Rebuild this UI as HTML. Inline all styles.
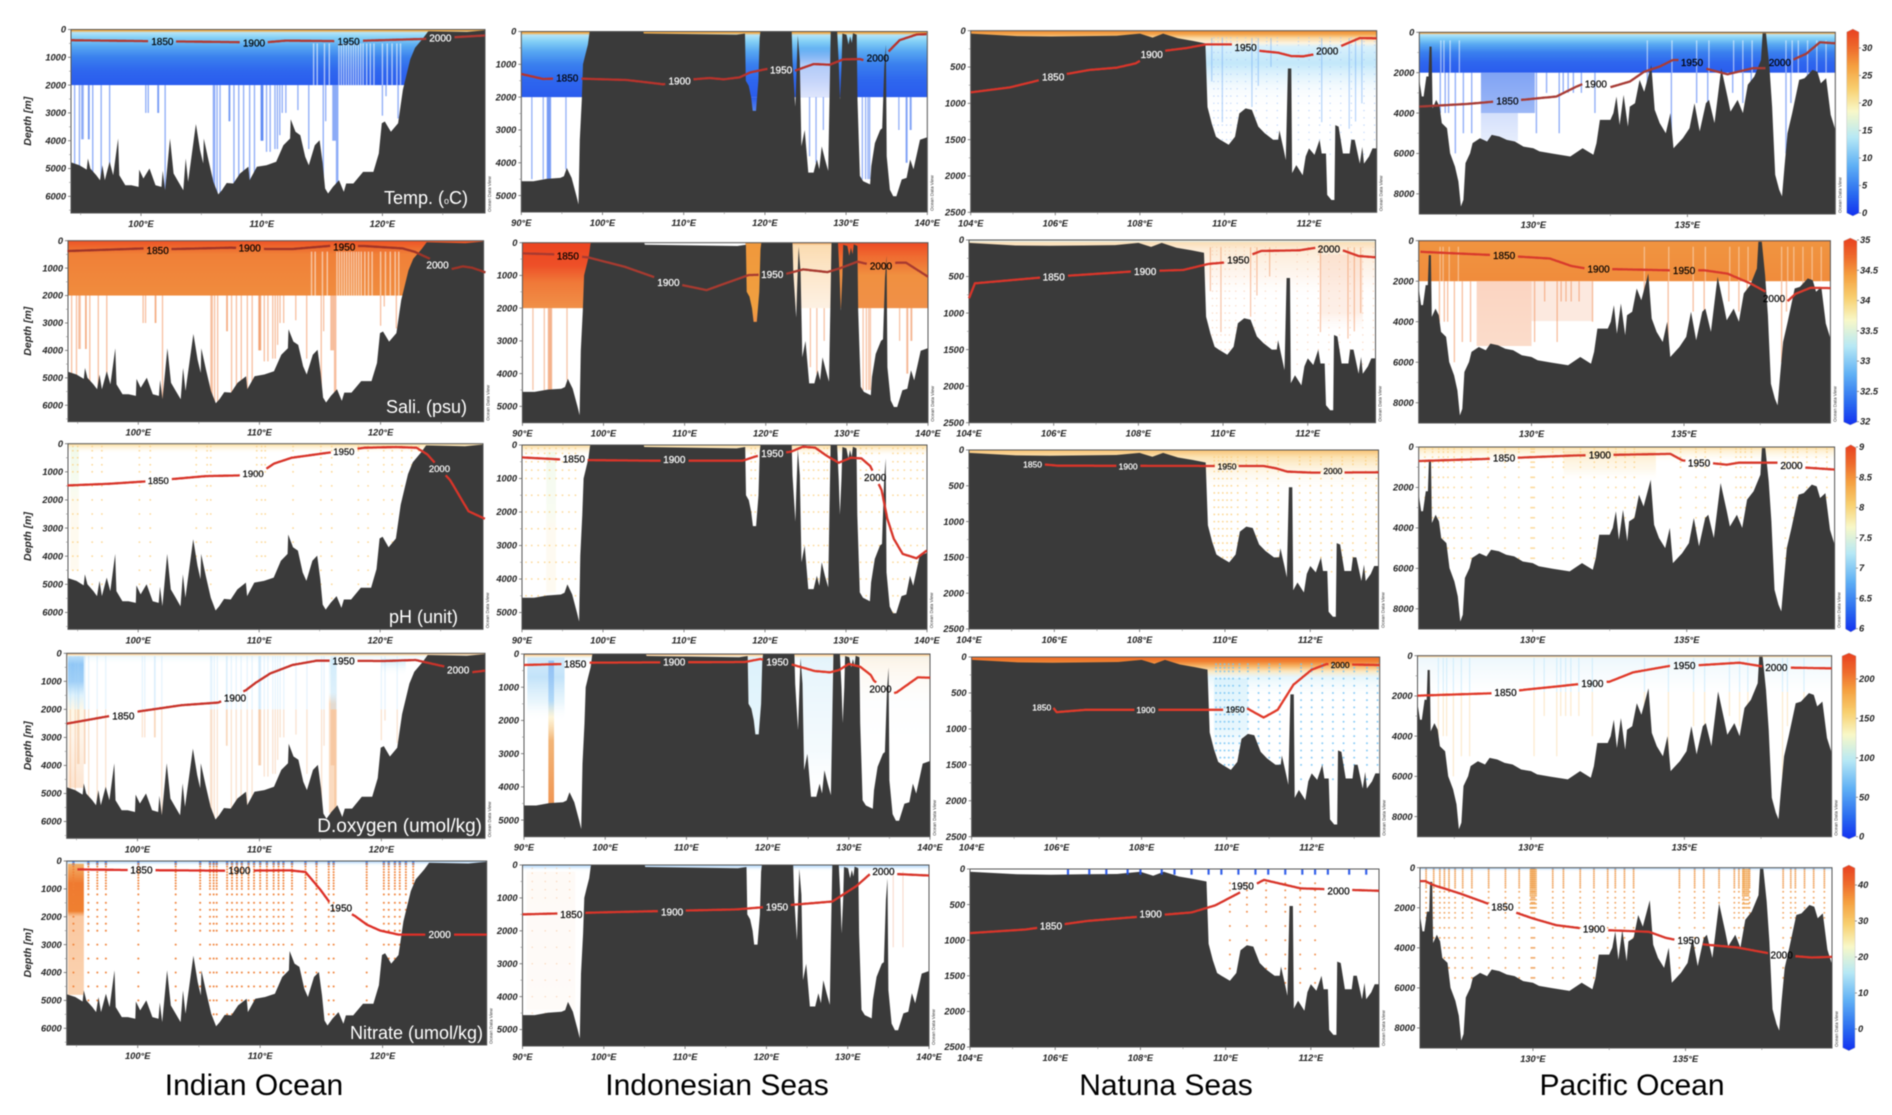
<!DOCTYPE html>
<html lang="en">
<head>
<meta charset="utf-8">
<title>Ocean sections: Indian Ocean, Indonesian Seas, Natuna Seas, Pacific Ocean</title>
<style>
html,body{margin:0;padding:0;background:#fff;width:1892px;height:1115px;overflow:hidden}
svg{display:block;filter:blur(.45px)}
text{font-family:"Liberation Sans",sans-serif}
.tick{font-size:9.3px;font-weight:bold;font-style:italic;fill:#222}
.title{font-size:30px;fill:#000;text-anchor:middle}
</style>
</head>
<body>
<svg id="figure" xmlns="http://www.w3.org/2000/svg" width="1892" height="1115" viewBox="0 0 1892 1115">
<rect width="1892" height="1115" fill="#ffffff"/>
<defs id="defs"></defs>
<g id="panels"></g>
<g id="bars"></g>
<text class="title" x="254" y="1095">Indian Ocean</text>
<text class="title" x="717" y="1095">Indonesian Seas</text>
<text class="title" x="1166" y="1095">Natuna Seas</text>
<text class="title" x="1632" y="1095">Pacific Ocean</text>
</svg>
<script>
/* ---------- bathymetry: [longitude E, depth m] ---------- */
const bathyIndian=[[94.2,4780],[94.9,4880],[95.5,5040],[95.6,4640],[95.8,5000],[96.3,5240],[96.6,5420],[96.8,4880],[97,5420],[97.4,4760],[97.7,5240],[98.1,3920],[98.2,5240],[98.7,5600],[99.2,5600],[99.8,5660],[99.85,5040],[100.2,5360],[100.7,5000],[101.2,5600],[101.7,5660],[101.8,5080],[102,5780],[102.4,3920],[102.7,5180],[103.1,5480],[103.5,5780],[103.7,4640],[103.9,5480],[104.55,3400],[104.9,4340],[105.15,4820],[105.2,3920],[105.6,4720],[106,5480],[106.4,5930],[106.7,5780],[107.1,5520],[107.65,5540],[108.2,5180],[108.9,4940],[109,5420],[109.6,4940],[110.4,4880],[111.2,4760],[111.8,4160],[112.35,3920],[112.4,3230],[112.8,3680],[113.2,3800],[113.6,4580],[113.9,4880],[114.4,4160],[114.8,3980],[115.05,4820],[115.25,5720],[115.5,5900],[115.9,5660],[116.4,5420],[116.8,5840],[117,5540],[117.6,5540],[118.4,5120],[119.25,5120],[119.7,4460],[119.95,3370],[120.2,3310],[120.7,3680],[121.3,3370],[121.7,2170],[122.3,1080],[122.7,660],[123.4,300],[123.8,60],[127,90],[128.5,30]];
const bathySeas=[[90,4560],[91.5,4560],[93.1,4490],[94.8,4460],[95.25,4410],[95.6,4160],[96.2,4460],[96.8,5020],[97.05,5270],[97.2,3300],[97.45,2080],[97.6,1000],[97.9,700],[98.2,400],[98.4,30],[98.5,0],[105,0],[105.1,60],[116.5,100],[117.55,60],[117.65,1500],[118,1650],[118.3,2000],[118.5,2420],[118.9,2420],[119.2,1500],[119.35,200],[119.45,0],[123.3,0],[123.4,900],[123.75,2290],[123.85,1500],[124.05,120],[124.3,900],[124.5,3500],[124.9,3000],[125.35,4300],[126,4300],[126.4,3900],[126.7,4200],[127,3500],[127.4,3900],[127.8,4250],[127.95,2080],[128.1,10],[128.9,10],[129.1,1000],[129.25,2080],[129.45,1000],[129.55,60],[130.05,100],[130.3,400],[130.5,150],[130.7,350],[130.85,50],[131.3,100],[131.4,2080],[131.7,4400],[132.1,4560],[132.95,4660],[133.1,4100],[133.55,3400],[134.2,3000],[134.45,2950],[134.7,1070],[134.9,400],[135,3800],[135.4,4820],[135.8,5020],[136.2,5020],[136.85,4510],[137.45,4460],[137.9,3900],[138.3,4200],[139.1,3300],[140,3220]];
const bathyNatuna=[[104,40],[105.1,75],[105.9,80],[106.7,75],[107.45,70],[108,40],[108.3,95],[108.55,40],[108.9,105],[109.25,140],[109.55,175],[109.6,1050],[109.7,1280],[109.8,1460],[109.9,1500],[110.1,1570],[110.25,1460],[110.35,1140],[110.5,1070],[110.65,1090],[110.8,1320],[110.95,1410],[111.15,1500],[111.27,1500],[111.3,1370],[111.4,1640],[111.45,1780],[111.5,520],[111.58,520],[111.6,1960],[111.7,1850],[111.85,1990],[111.92,1730],[112,1620],[112.13,1710],[112.25,1500],[112.3,1690],[112.4,1690],[112.43,2260],[112.53,2330],[112.6,2330],[112.62,1300],[112.7,1320],[112.8,1690],[112.96,1690],[113,1500],[113.08,1500],[113.2,1830],[113.26,1600],[113.3,1830],[113.42,1730],[113.5,1620],[113.6,1620]];
const bathyPacific=[[126.3,2360],[126.38,3180],[126.44,3180],[126.53,2190],[126.6,2190],[126.63,710],[126.7,710],[126.73,3760],[126.85,3350],[126.96,3680],[127.03,4500],[127.2,4750],[127.3,5990],[127.46,6650],[127.57,7390],[127.65,8630],[127.73,8300],[127.8,6480],[127.95,5990],[128.03,5490],[128.27,5250],[128.5,5410],[128.65,5080],[128.9,5160],[129.14,5330],[129.4,5410],[129.68,5660],[130,5740],[130.2,5900],[130.65,6020],[131.2,6150],[131.6,5740],[131.95,6070],[132.05,5490],[132.16,4340],[132.5,4340],[132.6,4000],[132.7,3180],[132.8,4590],[132.93,3100],[133.07,4670],[133.13,3680],[133.3,3510],[133.45,2360],[133.6,2940],[133.83,1620],[133.94,3840],[134.1,4500],[134.3,5000],[134.45,4000],[134.55,5740],[134.85,5250],[135.07,4750],[135.23,3510],[135.4,4910],[135.6,3510],[135.7,3350],[135.88,4500],[136.1,1780],[136.3,3180],[136.4,3930],[136.63,3350],[136.8,4000],[136.96,2600],[137.17,2190],[137.39,1370],[137.44,50],[137.55,50],[137.66,1700],[137.75,3680],[137.85,7060],[137.98,7800],[138.07,8130],[138.15,6650],[138.25,5000],[138.4,4000],[138.63,2360],[138.8,2280],[139.06,1860],[139.22,1950],[139.33,2520],[139.5,2280],[139.65,4090],[139.8,4830]];

/* ---------- red section lines: [longitude, depth]; year labels: [year, longitude, depth] ---------- */
const lineR1C1=[[94.2,385],[101,420],[109,460],[110.5,455],[112,400],[117,420],[123.4,340],[125,300],[128.5,215]];
const yearsR1C1=[[1850,101.77,420],[1900,109.36,480],[1950,117.2,420],[2000,124.8,300]];
const lineR1C2=[[90,1295],[92.7,1447],[93.9,1437],[97.4,1437],[103,1478],[107.5,1609],[111.2,1457],[113.2,1417],[114.9,1457],[116.9,1397],[118.2,1245],[120.2,1143],[123.7,1194],[126,992],[128,1012],[129.65,850],[131.7,840],[132.9,931],[134.8,718],[136.6,263],[138.7,91],[139.9,81]];
const yearsR1C2=[[1850,95.66,1407],[1900,109.5,1498],[1950,122,1174],[2000,133.9,810]];
const lineR1C3=[[104,849],[104.93,780],[105.7,670],[106.27,596],[106.8,541],[107.45,509],[107.9,450],[108.06,395],[108.6,275],[109.1,239],[109.57,188],[110.2,188],[110.8,275],[111.27,303],[111.58,349],[111.86,353],[112.17,321],[112.72,220],[113.2,101],[113.6,105]];
const yearsR1C3=[[1850,105.95,633],[1900,108.28,326],[1950,110.5,229],[2000,112.43,275]];
const lineR1C4=[[126.3,3680],[127.84,3550],[128.76,3430],[129.6,3350],[130.75,3180],[131.4,2690],[131.67,2520],[132.5,2720],[133.13,2440],[133.6,1950],[134.1,1700],[134.53,1370],[134.8,1370],[135.55,1780],[136.3,2080],[137.12,1780],[137.6,1780],[138.41,1370],[138.85,1070],[139.3,495],[139.8,545]];
const yearsR1C4=[[1850,129.16,3400],[1900,132.03,2560],[1950,135.15,1490],[2000,138,1490]];

const lineR2C1=[[94.15,377],[100.6,280],[102.9,304],[107.66,255],[110.7,304],[112.7,304],[116,182],[118.7,195],[121.8,280],[122.8,402],[124,645],[125.7,1047],[126.8,937],[127.55,986],[128.66,1156]];
const yearsR2C1=[[1850,101.6,353],[1900,109.2,268],[1950,117,219],[2000,124.7,888]];
const lineR2C2=[[90,326],[94.3,357],[98.1,449],[102.6,734],[106.7,1091],[109.7,1295],[112.7,1448],[117.9,989],[122.4,959],[124.6,816],[127.6,898],[129.1,785],[131.3,581],[132.8,663],[136.2,612],[137.3,612],[140,1040]];
const yearsR2C2=[[1850,95.6,398],[1900,108,1214],[1950,120.8,969],[2000,134.2,714]];
const lineR2C3=[[104,798],[104.14,593],[105.75,511],[107.8,433],[109.06,410],[109.65,328],[110,310],[110.65,205],[110.9,150],[111.8,141],[112.2,105],[112.85,146],[113.2,219],[113.6,237]];
const yearsR2C3=[[1850,106,502],[1900,108.16,433],[1950,110.36,274],[2000,112.5,123]];
const lineR2C4=[[126.36,548],[128.8,714],[130.6,880],[131.3,1245],[131.8,1378],[134.5,1460],[135.66,1460],[136.43,1627],[137.2,2125],[137.64,2490],[138.3,3120],[138.66,2620],[139.15,2324],[139.8,2340]];
const yearsR2C4=[[1850,129.1,714],[1900,132.2,1394],[1950,135,1460],[2000,137.95,2840]];

const lineR3C1=[[94.15,1485],[97.6,1425],[100.6,1342],[103.1,1247],[105.6,1152],[108.4,1128],[110.4,950],[111.2,713],[112.7,499],[114.7,380],[118.7,143],[121.3,119],[123,143],[123.9,380],[125.8,1306],[127.3,2400],[128.66,2670]];
const yearsR3C1=[[1850,101.66,1306],[1900,109.5,1057],[1950,117,273],[2000,124.9,891]];
const lineR3C2=[[90,370],[94.7,430],[98.1,450],[107,470],[110.8,470],[117.2,470],[119,330],[123.2,200],[124.7,50],[126.2,80],[127.6,320],[129.1,530],[130.6,380],[131.9,400],[133,630],[134.4,1350],[135.1,2200],[135.9,2800],[137,3250],[138.7,3380],[139.97,3150]];
const yearsR3C2=[[1850,96.4,420],[1900,108.8,430],[1950,120.9,250],[2000,133.6,970]];
const lineR3C3=[[105.73,200],[106.08,219],[109.6,223],[110.9,223],[111.2,256],[111.46,302],[112.03,316],[113.6,312]];
const yearsR3C3=[[1850,105.49,200],[1900,107.73,228],[1950,110.05,228],[2000,112.53,293]];
const lineR3C4=[[126.3,695],[128.64,582],[131.36,420],[134.47,340],[134.86,663],[136.3,873],[136.7,776],[137.98,776],[138.85,1018],[139.8,1115]];
const yearsR3C4=[[1850,129.07,533],[1900,132.18,388],[1950,135.4,792],[2000,138.4,905]];

const lineR4C1=[[94.2,2510],[97.6,2247],[99.85,2090],[103.6,1852],[106.65,1757],[108.9,1315],[109.7,1050],[110.9,717],[112.7,418],[114.7,263],[120.25,275],[122.8,239],[125,454],[127.3,681],[128.5,621]];
const yearsR4C1=[[1850,98.84,2235],[1900,108,1590],[1950,116.9,263],[2000,126.3,597]];
const lineR4C2=[[90,331],[94.85,301],[98.2,261],[117.2,241],[119.1,151],[123.2,331],[125.8,512],[127.7,552],[128.8,482],[130,301],[131.4,382],[132.7,632],[133.1,803],[135.15,1205],[135.9,1155],[138.5,703],[140,713]];
const yearsR4C2=[[1850,96.3,291],[1900,108.5,241],[1950,121.2,231],[2000,133.9,1054]];
const lineR4C3=[[105.9,688],[106,767],[106.68,735],[109.87,735],[110.5,721],[110.87,842],[111.2,735],[111.57,386],[112,177],[112.35,98],[113.6,112]];
const yearsR4C3=[[1850,105.65,702],[1900,108.1,735],[1950,110.2,730],[2000,112.67,112]];
const lineR4C4=[[126.3,1987],[128.68,1871],[131.6,1408],[132.56,1292],[133.33,828],[134.5,513],[135.56,464],[136.8,348],[137.6,546],[138.47,596],[139.8,629]];
const yearsR4C4=[[1850,129.17,1822],[1900,132,1375],[1950,135,480],[2000,138,580]];

const lineR5C1=[[95.07,300],[99.1,324],[107.3,348],[112.45,336],[113.7,396],[114.9,1020],[115.6,1440],[117.77,1980],[118.7,2280],[119.8,2496],[121.3,2640],[128.5,2640]];
const yearsR5C1=[[1850,100.3,324],[1900,108.3,336],[1950,116.6,1680],[2000,124.66,2640]];
const lineR5C2=[[90,1500],[101.4,1430],[116.3,1350],[128.1,1110],[131.1,635],[132.9,240],[140,320]];
const yearsR5C2=[[1850,96,1500],[1900,108.4,1430],[1950,121.3,1270],[2000,134.4,200]];
const lineR5C3=[[104,900],[105.3,850],[106.75,730],[109.2,610],[109.76,510],[110.9,153],[111.76,272],[113.6,306]];
const yearsR5C3=[[1850,105.9,800],[1900,108.24,630],[1950,110.4,238],[2000,112.65,306]];
const lineR5C4=[[126.3,667],[126.47,667],[126.74,867],[127.6,1283],[128.6,1833],[129.3,2167],[130,2533],[130.76,2867],[131.63,3033],[132.4,3117],[133.8,3200],[134.35,3500],[134.73,3617],[135.5,3817],[136.7,3983],[137.77,4283],[138.6,4417],[139.13,4483],[139.8,4450]];
const yearsR5C4=[[1850,129,1950],[1900,132,3050],[1950,135.1,3633],[2000,138.15,4350]];

/* ---------- deep station profiles: [longitude, deepest sample depth] ---------- */
const stationsIndian=[[94.5,9000],[94.9,9000],[95.1,3950],[95.2,3950],[95.65,3950],[95.7,3950],[96,9000],[96.7,9000],[97.4,9000],[100.4,3000],[100.6,3000],[101.4,3000],[101.45,3000],[102,9000],[106,9000],[106.1,9000],[106.3,9000],[106.55,9000],[107.3,3300],[107.35,3300],[107.7,9000],[108.1,9000],[108.5,9000],[109,9000],[109.4,9000],[109.95,4000],[110,4000],[110.05,4000],[110.1,4000],[110.4,4400],[110.7,4400],[111.1,4300],[111.3,4300],[111.5,3800],[111.7,3000],[112,3000],[113,2900],[113.9,4300],[115.1,9000],[115.3,3300],[115.9,4000],[116,4000],[116.1,4000],[116.2,9000],[116.3,9000],[120,3100],[120.3,2400],[121.3,3200]];
const stationsSeas=[[91.3,4500],[92.7,4500],[93.2,4500],[93.3,4500],[93.4,4500],[93.5,4500],[93.6,4500],[95.5,4200],[132,4500],[132.4,4500],[132.7,4500],[132.9,4500],[136.5,3000],[137.4,4000],[137.5,4000],[137.9,3000],[138,3000],[125.5,3800],[126.3,4000],[127.2,3000]];
const stationsNatuna=[[109.7,700],[109.95,1260],[110.65,1050],[110.8,760],[111.1,500],[112.3,1260],[112.95,1350],[113.1,1250],[113.25,1000]];
const stationsPacific=[[126.98,4000],[127.14,4000],[127.25,4000],[127.47,6000],[127.73,5000],[128,5000],[130.1,5000],[130.43,3000],[130.84,5000],[130.97,3000],[131.13,3000],[131.3,3000],[131.56,3000],[132,4000],[133.7,3000],[134.48,5000],[135.3,3500],[135.66,3500],[136.47,3000],[136.8,3500],[137.07,3000],[138.2,6000],[138.36,3500],[138.9,3000]];

/* ---------- gaps between upper-ocean casts ---------- */
const gapsIndian=[114.3,114.6,115.2,115.6,116.4,116.6,116.8,117,117.2,117.4,117.6,117.8,118,118.2,118.4,118.7,119,119.3,120,120.4,120.8,121.2,121.5];
const gapsPacific=[127,127.1,127.3,127.6,133.7,134.5,135.3,135.7,136.5,136.8,137.1,138.2,138.4,138.6,138.9,139.2,139.5];

/* ---------- discrete bottle stations: longitude ---------- */
const bottlesIndian=[94.75,95.97,96.7,97.4,100.05,103.1,105.1,105.9,106.2,106.45,107.3,107.7,108.1,108.5,109.05,109.5,110,110.55,111.1,111.5,111.9,112.6,113.7,114.6,115.6,116,118.7,120.1,120.5,121,121.4,121.9,122.5];
const phIndian=[94.6,95,96.2,97,100.1,101,104.8,105.7,106,109.8,110.2,110.5,112.8,115.1,116,118.2,119,120.3,121,121.8,122.6,123.2];
const bottlesSeas=[90.5,91.2,92,92.8,93.4,94.2,95,95.8,96.6,118.3,118.8,124.8,125.4,126,126.6,127.3,127.7,131.8,132.5,133.2,134.1,135.8,136.4,137.2,138,138.8,139.5];
const bottlesNatuna=[109.75,109.85,109.95,110.05,110.15,110.3,110.5,110.75,111,111.25,111.75,112,112.25,112.5,112.75,113,113.3,113.55];
const bottlesPacific=[126.5,126.75,126.95,127.1,127.25,127.45,127.7,128,128.55,129.1,129.55,129.95,130,130.05,130.65,131,131.55,132,132.45,132.7,133,133.3,134.8,135.3,135.6,136.1,136.6,136.75,136.9,137.1,138.2,138.45,138.6,138.9,139.2,139.55];
const clusterPacific=[129.92,129.98,130.04,130.1,136.88,136.94,137,137.06];

/* ---------- sampled depth levels ---------- */
const levelsNitrate=[100,200,300,400,500,600,700,800,900,1000,1200,1500,1750,2000,2250,2500,3000,3500,4000,4500,5000,5500];
const levelsSparse=[100,250,500,750,1000,1500,2000,2500,3000,3500,4000,4500,5000,5500];
const levelsNatuna=[100,150,200,300,400,500,600,700,800,900,1000,1100,1200,1300,1400,1500,1700];
const levelsCluster=[100,200,300,400,500,600,700,800,900,1000,1100,1200,1300,1400,1600,1800,2000];

/* ---------- colorbar tick labels ---------- */
const ticksTemp=[0,5,10,15,20,25,30];
const ticksSali=[32,32.5,33,33.5,34,34.5,35];
const ticksPh=[6,6.5,7,7.5,8,8.5,9];
const ticksOxygen=[0,50,100,150,200];
const ticksNitrate=[0,10,20,30,40];

/* ---------- column axes ---------- */
const columns=[
 {name:'indian',lon:[94.2,128.5],maxDepth:6600,lonMajor:[100,110,120],lonMinor:[95,105,115,125],depthMajor:[0,1000,2000,3000,4000,5000,6000],depthMinor:[500,1500,2500,3500,4500,5500,6500],bathy:bathyIndian,deep:stationsIndian,title:true},
 {name:'seas',lon:[90,140],maxDepth:5500,lonMajor:[90,100,110,120,130,140],lonMinor:[95,105,115,125,135],depthMajor:[0,1000,2000,3000,4000,5000],depthMinor:[500,1500,2500,3500,4500],bathy:bathySeas,deep:stationsSeas},
 {name:'natuna',lon:[104,113.6],maxDepth:2500,lonMajor:[104,106,108,110,112],lonMinor:[105,107,109,111,113],depthMajor:[0,500,1000,1500,2000,2500],depthMinor:[250,750,1250,1750,2250],bathy:bathyNatuna,deep:stationsNatuna},
 {name:'pacific',lon:[126.3,139.8],maxDepth:9000,lonMajor:[130,135],lonMinor:[127.5,132.5,137.5],depthMajor:[0,2000,4000,6000,8000],depthMinor:[1000,3000,5000,7000],bathy:bathyPacific,deep:stationsPacific}
];

/* ---------- gradient stops (depth, colour, opacity) ---------- */
const tempStops=[[0,'#f0a030',1],[50,'#f4b050',1],[110,'#b4e4f8',1],[300,'#84d0f6',1],[600,'#58a8f2',1],[1000,'#3a80ee',1],[1500,'#2e66ee',1],[2000,'#2a5cee',1]];
const saliStops=[[0,'#ee5226',1],[250,'#ee6a2e',1],[500,'#f08038',1],[2000,'#f08c3e',1]];
const saliStrong=[[0,'#ec4420',1],[700,'#ee5028',1],[1200,'#f07838',1],[2000,'#f09048',1]];
const saliRight=[[0,'#ee4a24',1],[400,'#ef6a30',1],[1000,'#f09040',1],[2000,'#f09048',1]];
const saliPacific=[[0,'#ef7030',1],[70,'#f09440',1],[2000,'#f08c3c',1]];
const phTop=[[0,'#fbd58a',.9],[120,'#fde7b8',.6],[350,'#ffffff',0]];
const phPacificTop=[[0,'#fbd58a',.9],[150,'#fde7b8',.7],[800,'#ffffff',0]];
const oxygenTop=[[0,'#f0a050',1],[60,'#fbe3b8',.8],[120,'#e6f5fc',.6],[400,'#ffffff',0]];
const oxygenWash=[[100,'#b8def9',.9],[400,'#7cbcf4',.85],[1000,'#86c2f5',.8],[1500,'#d2edfb',.7],[2000,'#fdf3d8',.6],[3000,'#fdeedd',.6],[4800,'#fbd8bc',.7]];
const nitrateTop=[[0,'#7ab8f5',.7],[120,'#e8f5fd',.5],[200,'#ffffff',0]];

const BLUE='#3a6ff0',ORANGE='#f08a50',AMBER='#f0a060',PALE='#fbd080',SKY='#8bc8f5',RUST='#ef7f35';

/* ---------- panel layout ---------- */
const panels=[
 {id:'temp-indian',col:0,box:[71,29.5,485,213],line:lineR1C1,years:yearsR1C1,color:'#b13a34',size:10,caption:['Temp. (','o','C)'],capRight:468,capBase:204,
  bands:[[94.2,128.5,tempStops]],
  stripes:[{deep:1,from:2000,color:BLUE,opacity:.55,w:1.4},{list:gapsIndian,from:500,to:2000,color:'#ffffff',opacity:.6,w:1.4}],dots:[]},
 {id:'temp-seas',col:1,box:[521.3,31.5,927.3,212],line:lineR1C2,years:yearsR1C2,color:'#b8332c',size:10,
  bands:[[90,140,tempStops],[117.6,119.5,[[2000,'#2a5cee',1],[2450,'#5a88f2',1]]],[124.3,128.1,[[500,'#ffffff',0],[1000,'#ffffff',.6],[2000,'#ffffff',.85]]]],
  stripes:[{deep:1,from:2000,color:BLUE,opacity:.55,w:1.3}],dots:[]},
 {id:'temp-natuna',col:2,box:[970.7,30.7,1376.7,212.3],line:lineR1C3,years:yearsR1C3,color:'#d8352a',size:10,
  bands:[[104,113.6,[[0,'#f08a30',1],[50,'#f4a850',1],[100,'#fbd8a0',1],[170,'#fdf3df',1],[220,'#d5effb',.9],[450,'#b4e2f9',.8],[800,'#e8f6fd',.4],[1100,'#ffffff',0]]]],
  stripes:[{deep:1,from:100,color:'#7ab0f5',opacity:.55,w:1.2}],dots:[{stations:bottlesNatuna,levels:levelsNatuna,color:'#a8c8f8',r:.7,opacity:.7}]},
 {id:'temp-pacific',col:3,box:[1419.3,32.3,1835.3,214],line:lineR1C4,years:yearsR1C4,color:'#a83c36',size:10,
  bands:[[126.3,139.8,tempStops],[128.3,130.05,[[2000,'#4a7cf0',.7],[4000,'#5a88f0',.6]]],[128.3,129.5,[[4000,'#a8c0f8',.5],[5400,'#b8ccf8',.35]]]],
  stripes:[{deep:1,from:2000,color:BLUE,opacity:.55,w:1.4},{list:gapsPacific,from:400,to:2000,color:'#ffffff',opacity:.55,w:1.3}],dots:[]},

 {id:'sali-indian',col:0,box:[68,240.7,483.6,421.7],line:lineR2C1,years:yearsR2C1,color:'#a03428',size:10,caption:['Sali. (psu)'],capRight:467,capBase:413,
  bands:[[94.2,128.5,saliStops]],
  stripes:[{deep:1,from:2000,color:ORANGE,opacity:.55,w:1.3},{list:gapsIndian,from:400,to:2000,color:'#ffffff',opacity:.55,w:1.4}],dots:[]},
 {id:'sali-seas',col:1,box:[522.4,242.7,928,422.7],line:lineR2C2,years:yearsR2C2,color:'#a83a30',size:10,
  bands:[[90,98.5,saliStrong],[117.5,119.5,[[0,'#f0983c',1],[2000,'#f0a040',1],[2450,'#f09048',1]]],[123.3,128.1,[[0,'#f4a050',1],[80,'#fbd8a8',.9],[2000,'#fde8d0',.6]]],[128.1,140,saliRight]],
  stripes:[{deep:1,from:2000,color:ORANGE,opacity:.5,w:1.3}],dots:[]},
 {id:'sali-natuna',col:2,box:[969,240,1375.5,422.7],line:lineR2C3,years:yearsR2C3,color:'#d8352a',size:10,
  bands:[[104,113.6,[[0,'#d8eef5',1],[40,'#fbe0b8',1],[120,'#fce9d0',.9],[500,'#fdeee2',.5],[800,'#ffffff',0]]],[112.3,113.3,[[200,'#fbd8c4',.55],[1000,'#fbd8c4',.4],[1300,'#ffffff',0]]]],
  stripes:[{deep:1,from:100,color:ORANGE,opacity:.5,w:1.2}],dots:[{stations:bottlesNatuna,levels:levelsNatuna,color:'#f8c8a8',r:.7,opacity:.7}]},
 {id:'sali-pacific',col:3,box:[1418.7,240.7,1830.4,423],line:lineR2C4,years:yearsR2C4,color:'#d83a2c',size:10,
  bands:[[126.3,139.8,saliPacific],[128.2,130,[[2000,'#f8b898',.6],[5200,'#f8c0a0',.55]]],[130,132,[[2000,'#f8c8b0',.4],[3950,'#f8c8b0',.4],[4000,'#ffffff',0]]]],
  stripes:[{deep:1,from:2000,color:ORANGE,opacity:.55,w:1.3},{list:gapsPacific,from:300,to:2000,color:'#ffffff',opacity:.4,w:1.3}],dots:[]},

 {id:'ph-indian',col:0,box:[68,443.7,483,629.3],line:lineR3C1,years:yearsR3C1,color:'#d8352a',size:9.5,caption:['pH (unit)'],capRight:458,capBase:623,
  bands:[[94.2,128.5,phTop],[94.4,95.1,[[100,'#eef8e4',.8],[1500,'#f3faea',.7],[2200,'#fdf6e0',.5],[4500,'#fdf2d4',.35]]]],
  stripes:[],dots:[{stations:phIndian,levels:levelsSparse,color:PALE,r:.9,opacity:.8}]},
 {id:'ph-seas',col:1,box:[522,445,927,629.3],line:lineR3C2,years:yearsR3C2,color:'#d8352a',size:10,
  bands:[[90,140,phTop],[93,94.2,[[200,'#eef8e8',.7],[2000,'#f4faea',.6],[2500,'#fdf4dc',.4],[4400,'#fdf4dc',.4]]]],
  stripes:[],dots:[{stations:bottlesSeas,levels:levelsSparse,color:PALE,r:.9,opacity:.8}]},
 {id:'ph-natuna',col:2,box:[969,450,1378.5,629],line:lineR3C3,years:yearsR3C3,color:'#d8352a',size:8.5,
  bands:[[104,113.6,[[0,'#f8c070',1],[100,'#fbdca0',.8],[300,'#fdebc8',.4],[600,'#ffffff',0]]]],
  stripes:[],dots:[{stations:bottlesNatuna,levels:levelsNatuna,color:PALE,r:.9,opacity:.85}]},
 {id:'ph-pacific',col:3,box:[1418.7,447,1834.6,629],line:lineR3C4,years:yearsR3C4,color:'#d83a2c',size:10,
  bands:[[126.3,139.8,phPacificTop],[131,134,[[200,'#fbdca0',.5],[1100,'#fdeac0',.3],[1700,'#ffffff',0]]]],
  stripes:[],dots:[{stations:bottlesPacific,levels:levelsSparse,color:PALE,r:.9,opacity:.8}]},

 {id:'oxygen-indian',col:0,box:[66.7,653.3,485,838.3],line:lineR4C1,years:yearsR4C1,color:'#c8332a',size:10,caption:['D.oxygen (umol/kg)'],capRight:482,capBase:832,capSize:19,
  bands:[[94.2,128.5,oxygenTop],[94.3,95.6,oxygenWash],[120,122,[[200,'#bfe8fa',.8],[800,'#ffffff',0]]],[115.7,116.3,[[200,'#cfeefa',.6],[1400,'#e0f4fb',.4],[1800,'#f8c090',.55],[5700,'#f8b880',.5]]]],
  stripes:[{deep:1,from:2000,color:AMBER,opacity:.3,w:1.3},{deep:1,from:100,to:2000,color:'#a8d8f8',opacity:.28,w:1.3}],dots:[]},
 {id:'oxygen-seas',col:1,box:[524,654,930,836.7],line:lineR4C2,years:yearsR4C2,color:'#e03a2a',size:10,
  bands:[[90,140,oxygenTop],[90.4,95,[[100,'#cde8fb',.85],[700,'#b4dcf8',.8],[1500,'#dff2fb',.6],[2000,'#ffffff',0]]],[93,93.7,[[200,'#78aef2',.7],[1400,'#9acdf6',.7],[1900,'#fdeec0',.6],[2600,'#f0a860',.85],[4500,'#ee8a40',.9]]],[117.6,119.5,[[100,'#d8f0fb',.9],[2450,'#e6f6fc',.9]]],[124,128,[[100,'#dff2fb',.8],[3000,'#eef8fd',.6],[4400,'#ffffff',0]]],[131.5,140,[[100,'#fdeed8',.6],[1500,'#fafcfd',.3],[3000,'#ffffff',0]]]],
  stripes:[],dots:[]},
 {id:'oxygen-natuna',col:2,box:[971.6,657,1379.7,836.7],line:lineR4C3,years:yearsR4C3,color:'#e03a2a',size:8.5,
  bands:[[104,113.6,[[0,'#ef6a28',1],[60,'#f08030',1],[120,'#f6b060',1],[200,'#fce8c0',1],[280,'#e0f4fb',.8],[600,'#ffffff',0]]],[109.7,110.5,[[300,'#cfeefb',.6],[1000,'#cfeefb',.5],[1500,'#ffffff',0]]]],
  stripes:[],dots:[{stations:bottlesNatuna,levels:levelsNatuna,color:'#78c4f5',r:1,opacity:.85}]},
 {id:'oxygen-pacific',col:3,box:[1417.5,655.7,1831.6,836.7],line:lineR4C4,years:yearsR4C4,color:'#e03a2a',size:10,
  bands:[[126.3,139.8,[[0,'#f0a050',1],[60,'#fbe3b8',.9],[120,'#e2f3fb',.6],[1200,'#f2f9fd',.4],[2000,'#ffffff',0]]]],
  stripes:[{deep:1,from:1800,color:'#f8d090',opacity:.45,w:1.2},{deep:1,from:100,to:1800,color:'#bfe6fa',opacity:.6,w:1.2}],dots:[]},

 {id:'nitrate-indian',col:0,box:[66.7,861,486.7,1045],line:lineR5C1,years:yearsR5C1,color:'#dd3028',size:10,caption:['Nitrate (umol/kg)'],capRight:483,capBase:1039,
  bands:[[94.2,128.5,nitrateTop],[94.3,95.6,[[100,'#f0a858',.9],[800,'#ef7a30',1],[1800,'#ef8030',1],[2000,'#f8b078',.7],[4800,'#f8bc88',.65]]]],
  stripes:[{list:bottlesIndian,from:0,to:150,color:'#2f7cf0',opacity:.8,w:2.4}],dots:[{stations:bottlesIndian,levels:levelsNitrate,color:RUST,r:1.05,opacity:.9}]},
 {id:'nitrate-seas',col:1,box:[522.5,865,929,1046],line:lineR5C2,years:yearsR5C2,color:'#d8352a',size:10,
  bands:[[90,140,nitrateTop],[90.5,96.5,[[200,'#fbe6d4',.2],[4400,'#fcefe6',.25]]]],
  stripes:[{list:[135.6,136.8],from:200,to:2500,color:'#f4b090',opacity:.5,w:1}],dots:[{stations:[91.2,92.8,94.2,95.8],levels:levelsSparse,color:'#f8c8a0',r:.8,opacity:.6}]},
 {id:'nitrate-natuna',col:2,box:[970,869,1379,1047],line:lineR5C3,years:yearsR5C3,color:'#d8352a',size:10,
  bands:[],
  stripes:[{list:[106.3,106.8,107.2,107.7,108,108.5,108.8,109.2,109.6,109.9,110.3,110.7,111,111.4,111.8,112.1,112.4,112.9,113.3],from:0,to:80,color:'#1f50e8',opacity:.9,w:2.2,over:true}],
  dots:[{stations:[110.1,110.5,110.95,111.4,111.75,112.1],levels:[200,300,400,500,600,800,1000,1200,1400,1600],color:RUST,r:1,opacity:.85}]},
 {id:'nitrate-pacific',col:3,box:[1420,867.7,1832,1048],line:lineR5C4,years:yearsR5C4,color:'#d8352a',size:10,
  bands:[[126.3,139.8,nitrateTop]],
  stripes:[{list:bottlesPacific,from:0,to:120,color:'#4a98f2',opacity:.55,w:2}],dots:[{stations:bottlesPacific,levels:levelsNitrate,color:'#f0a058',r:.95,opacity:.9},{stations:clusterPacific,levels:levelsCluster,color:'#f0a048',r:1,opacity:.85}]}
];

/* ---------- colorbars ---------- */
const bars=[
 {name:'temperature',ticks:ticksTemp,domain:[0,33],y:[213,31.5],x:[1846.7,1859],tip:[29,216]},
 {name:'salinity',ticks:ticksSali,domain:[32,35],y:[421.7,240],x:[1843.6,1857],tip:[238,425]},
 {name:'ph',ticks:ticksPh,domain:[6,9],y:[628.7,447],x:[1845.5,1856],tip:[444.7,632]},
 {name:'oxygen',ticks:ticksOxygen,domain:[0,230],y:[836.7,655.3],x:[1842,1856],tip:[653,839]},
 {name:'nitrate',ticks:ticksNitrate,domain:[-5,45],y:[1047,867],x:[1842.7,1855],tip:[865,1050.7]}
];
const barStops=[[0,'#1230f0'],[.12,'#2a6cf0'],[.27,'#5fb0f5'],[.42,'#b6e8f5'],[.56,'#f8f8c8'],[.68,'#f8d070'],[.8,'#f5a040'],[.9,'#ee6a2c'],[1,'#e84020']];

const NS='http://www.w3.org/2000/svg';
const defs=document.getElementById('defs');
let uid=0;
function make(tag,attrs,parent){
  const el=document.createElementNS(NS,tag);
  for(const k in attrs)el.setAttribute(k,attrs[k]);
  parent.appendChild(el);
  return el;
}
function seabed(bathy,lon){
  for(let i=1;i<bathy.length;i++){
    if(lon<=bathy[i][0]){
      const a=bathy[i-1],b=bathy[i],t=(lon-a[0])/((b[0]-a[0])||1);
      return a[1]+(b[1]-a[1])*t;
    }
  }
  return bathy[bathy.length-1][1];
}
function drawPanel(p){
  const col=columns[p.col],r=p.box;
  const x=lon=>r[0]+(lon-col.lon[0])/(col.lon[1]-col.lon[0])*(r[2]-r[0]);
  const y=d=>r[1]+d/col.maxDepth*(r[3]-r[1]);
  const g=make('g',{},document.getElementById('panels'));
  
  
  const clipId='clip'+(uid++);
  const clip=make('clipPath',{id:clipId},defs);
  make('rect',{x:r[0],y:r[1],width:r[2]-r[0],height:r[3]-r[1]},clip);
  const plot=make('g',{'clip-path':'url(#'+clipId+')'},g);
  
  

  p.bands.forEach(b=>{
    const id='grad'+(uid++),stops=b[2];
    const top=stops[0][0],bot=stops[stops.length-1][0];
    const grad=make('linearGradient',{id:id,gradientUnits:'userSpaceOnUse',x1:0,x2:0,y1:y(top),y2:y(bot)},defs);
    stops.forEach(s=>make('stop',{offset:(s[0]-top)/(bot-top),'stop-color':s[1],'stop-opacity':s[2]},grad));
    const band=make('rect',{x:x(b[0]),width:x(b[1])-x(b[0]),y:y(top),height:y(bot)-y(top),fill:'url(#'+id+')'},plot);
    
    
  });

  const drawStripes=s=>{
    const rows=s.deep?col.deep:s.list.map(l=>[l,s.to]);
    rows.forEach(st=>{
      const bottom=s.to!==undefined?Math.min(s.to,st[1]):st[1];
      if(bottom<=s.from)return;
      const sx=x(st[0]);
      const stripe=make('line',{x1:sx,x2:sx,y1:y(s.from),y2:y(bottom),stroke:s.color,'stroke-opacity':s.opacity,'stroke-width':s.w},plot);
      
      
    });
  };
  p.stripes.filter(s=>!s.over).forEach(drawStripes);

  p.dots.forEach(d=>{
    d.stations.forEach(lon=>{
      const floor=seabed(col.bathy,lon);
      d.levels.forEach(level=>{
        if(level>floor)return;
        const dot=make('circle',{cx:x(lon),cy:y(level),r:d.r,fill:d.color,'fill-opacity':d.opacity},plot);
        
        
      });
    });
  });

  let seafloorPath='M'+x(col.lon[0])+' '+r[3];
  col.bathy.forEach(b=>{seafloorPath+='L'+x(b[0]).toFixed(1)+' '+y(b[1]).toFixed(1);});
  seafloorPath+='L'+x(col.lon[1])+' '+r[3]+'Z';
  const floorShape=make('path',{d:seafloorPath,fill:'#3a3a3a'},plot);
  
  
  p.stripes.filter(s=>s.over).forEach(drawStripes);

  const frame=make('rect',{x:r[0],y:r[1],width:r[2]-r[0],height:r[3]-r[1],fill:'none',stroke:'#555','stroke-width':1},g);
  
  

  col.depthMajor.forEach(d=>{
    const tick=make('line',{x1:r[0]-3,x2:r[0],y1:y(d),y2:y(d),stroke:'#666','stroke-width':.8},g);
    
    
    const label=make('text',{class:'tick',x:r[0]-5,y:y(d)+3.2,'text-anchor':'end'},g);
    
    
    label.textContent=d;
  });
  col.depthMinor.forEach(d=>{
    const tick=make('line',{x1:r[0]-2,x2:r[0],y1:y(d),y2:y(d),stroke:'#888','stroke-width':.6},g);
    
    
  });
  col.lonMajor.forEach(l=>{
    const tick=make('line',{x1:x(l),x2:x(l),y1:r[3],y2:r[3]+3,stroke:'#666','stroke-width':.8},g);
    
    
    const label=make('text',{class:'tick',x:x(l),y:r[3]+14,'text-anchor':'middle'},g);
    
    
    label.textContent=l+'°E';
  });
  col.lonMinor.forEach(l=>{
    const tick=make('line',{x1:x(l),x2:x(l),y1:r[3],y2:r[3]+2,stroke:'#888','stroke-width':.6},g);
    
    
  });
  if(col.title){
    const cy=(r[1]+r[3])/2;
    const depthTitle=make('text',{transform:'translate(31 '+cy+') rotate(-90)','text-anchor':'middle','font-size':'10.5','font-weight':'bold','font-style':'italic',fill:'#222'},g);
    
    
    depthTitle.textContent='Depth [m]';
  }
  const odv=make('text',{transform:'translate('+(r[2]+6)+' '+(r[3]-1)+') rotate(-90)','font-size':'4.6',fill:'#333'},g);
  
  
  odv.textContent='Ocean Data View';

  /* section line with gaps at the year labels */
  const boxes=p.years.map(t=>({cx:x(t[1]),cy:y(t[2])}));
  const halfW=p.size*1.35,halfH=p.size*.62;
  let d='',pen=false;
  for(let i=1;i<p.line.length;i++){
    const ax=x(p.line[i-1][0]),ay=y(p.line[i-1][1]),bx=x(p.line[i][0]),by=y(p.line[i][1]);
    const n=Math.max(1,Math.ceil(Math.hypot(bx-ax,by-ay)));
    for(let k=0;k<=n;k++){
      const px=ax+(bx-ax)*k/n,py=ay+(by-ay)*k/n;
      const hidden=boxes.some(b=>Math.abs(px-b.cx)<halfW&&Math.abs(py-b.cy)<halfH);
      if(hidden){pen=false;continue;}
      d+=(pen?'L':'M')+px.toFixed(1)+' '+py.toFixed(1);
      pen=true;
    }
  }
  const section=make('path',{d:d,fill:'none',stroke:p.color,'stroke-width':2.3,'stroke-linejoin':'round'},g);
  
  

  p.years.forEach(t=>{
    const onFloor=t[2]>seabed(col.bathy,t[1]);
    const tone=onFloor?'#ffffff':'#000000';
    const label=make('text',{x:x(t[1]),y:y(t[2])+p.size*.36,'text-anchor':'middle','font-size':p.size,fill:tone,stroke:tone,'stroke-width':.2},g);
    
    
    label.textContent=t[0];
  });

  if(p.caption){
    const cap=make('text',{x:p.capRight,y:p.capBase,'text-anchor':'end','font-size':p.capSize||18,fill:'#ffffff'},g);
    
    
    p.caption.forEach((part,i)=>{
      const span=make('tspan',i===1?{'font-size':9}:{},cap);
      span.textContent=part;
    });
  }
}
function drawBar(b){
  const g=make('g',{},document.getElementById('bars'));
  
  
  const y=v=>b.y[0]+(v-b.domain[0])/(b.domain[1]-b.domain[0])*(b.y[1]-b.y[0]);
  const id='bar'+(uid++);
  const grad=make('linearGradient',{id:id,x1:0,x2:0,y1:1,y2:0},defs);
  barStops.forEach(s=>make('stop',{offset:s[0],'stop-color':s[1]},grad));
  const l=b.x[0],h=b.x[1],m=(l+h)/2,t=b.tip[0],u=b.tip[1];
  const bar=make('polygon',{points:[m,t,h,t+3,h,u-3,m,u,l,u-3,l,t+3].join(' '),fill:'url(#'+id+')',stroke:'#bbb','stroke-width':.4},g);
  
  
  b.ticks.forEach(v=>{
    const mark=make('line',{x1:h,x2:h+2,y1:y(v),y2:y(v),stroke:'#666','stroke-width':.7},g);
    
    
    const label=make('text',{class:'tick',x:h+3,y:y(v)+3,'font-size':8.5},g);
    
    
    label.textContent=v;
  });
}
panels.forEach(drawPanel);
bars.forEach(drawBar);
</script>
</body>
</html>
